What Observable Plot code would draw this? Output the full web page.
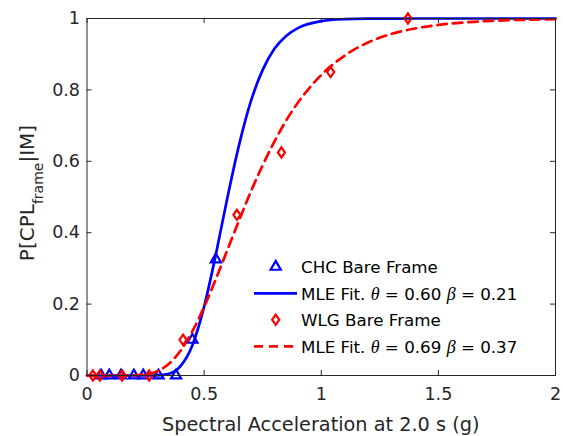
<!DOCTYPE html>
<html><head><meta charset="utf-8">
<script src="https://cdn.jsdelivr.net/npm/d3@7"></script>
<script src="https://cdn.jsdelivr.net/npm/@observablehq/plot@0.6"></script>
<style>body{margin:0;background:#fff}#chart{width:563px;height:436px}</style>
</head><body><div id="chart"></div>
<script>
// CHC Bare Frame observations
const chcX = [0.06, 0.095, 0.145, 0.20, 0.24, 0.305, 0.38, 0.45, 0.55];
const chcY = [0, 0, 0, 0, 0, 0, 0, 0.10, 0.325];
// WLG Bare Frame observations
const wlgX = [0.025, 0.055, 0.15, 0.265, 0.41, 0.64, 0.83, 1.04, 1.37];
const wlgY = [0, 0, 0, 0, 0.10, 0.45, 0.625, 0.85, 1.0];
// MLE fit curves
const fitChcX = [0, 0.25, 0.30, 0.35, 0.40, 0.45, 0.50, 0.55, 0.60, 0.65, 0.70, 0.75, 0.80, 0.85, 0.90, 1.0, 1.1, 1.2, 1.4, 2.0];
const fitChcY = [0, 0, 0.0005, 0.005, 0.027, 0.085, 0.193, 0.339, 0.5, 0.648, 0.769, 0.856, 0.915, 0.951, 0.973, 0.9925, 0.998, 0.9995, 1, 1];
const fitWlgX = [0, 0.15, 0.20, 0.25, 0.30, 0.35, 0.40, 0.45, 0.50, 0.55, 0.60, 0.65, 0.70, 0.75, 0.80, 0.85, 0.90, 0.95, 1.0, 1.1, 1.2, 1.3, 1.4, 1.5, 1.6, 1.7, 1.8, 2.0];
const fitWlgY = [0, 0, 0.0004, 0.003, 0.012, 0.033, 0.070, 0.124, 0.192, 0.270, 0.353, 0.436, 0.516, 0.589, 0.655, 0.714, 0.764, 0.806, 0.842, 0.896, 0.933, 0.957, 0.972, 0.982, 0.9885, 0.9926, 0.9952, 0.998];
// ticks and labels
const xTicks = [0, 0.5, 1, 1.5, 2];
const yTicks = [0, 0.2, 0.4, 0.6, 0.8, 1];
const xLabel = "Spectral Acceleration at 2.0 s (g)";
const yLabelParts = ["P[CPL", "frame", "|IM]"];
const legendItems = [
  {kind: "tri", text: ["CHC Bare Frame"]},
  {kind: "solid", text: ["MLE Fit. ", "θ", " = 0.60 ", "β", " = 0.21"]},
  {kind: "dia", text: ["WLG Bare Frame"]},
  {kind: "dash", text: ["MLE Fit. ", "θ", " = 0.69 ", "β", " = 0.37"]}
];

const BLUE = "#0000ff", RED = "#ff0000", AX = "#262626";
const FONT = "'DejaVu Sans', sans-serif";

const chc = chcX.map((x, i) => ({x, y: chcY[i]}));
const wlg = wlgX.map((x, i) => ({x, y: wlgY[i]}));
const fitChc = fitChcX.map((x, i) => ({x, y: fitChcY[i]}));
const fitWlg = fitWlgX.map((x, i) => ({x, y: fitWlgY[i]}));

// MATLAB-like diamond symbol
const diamondM = {draw(ctx, size) {
  const h = Math.sqrt(size / 1.4), w = 0.7 * h;
  ctx.moveTo(0, -h); ctx.lineTo(w, 0); ctx.lineTo(0, h); ctx.lineTo(-w, 0); ctx.closePath();
}};

const tx = 5 / 468.5 * 2, ty = 5 / 357;
const R_TRI = 3.8, R_DIA = 3.4;

const plot = Plot.plot({
  width: 563, height: 436,
  marginLeft: 86.5, marginRight: 8, marginTop: 18, marginBottom: 61,
  x: {domain: [0, 2]},
  y: {domain: [0, 1]},
  style: {fontFamily: FONT, fontSize: "17.5px", color: AX, background: "#fff"},
  marks: [
    Plot.axisX(xTicks, {tickSize: 0, tickPadding: 12, label: null, tickFormat: d => String(d), fill: AX}),
    Plot.axisY(yTicks, {tickSize: 0, tickPadding: 7, label: null, tickFormat: d => String(d), fill: AX}),
    Plot.ruleX(xTicks, {x: d => d, y1: 0, y2: ty, stroke: AX, strokeWidth: 1}),
    Plot.ruleX(xTicks, {x: d => d, y1: 1, y2: 1 - ty, stroke: AX, strokeWidth: 1}),
    Plot.ruleY(yTicks, {y: d => d, x1: 0, x2: tx, stroke: AX, strokeWidth: 1}),
    Plot.ruleY(yTicks, {y: d => d, x1: 2, x2: 2 - tx, stroke: AX, strokeWidth: 1}),
    Plot.dot(chc, {x: "x", y: "y", symbol: "triangle", r: R_TRI, stroke: BLUE, strokeWidth: 2.2, fill: "none"}),
    Plot.line(fitChc, {x: "x", y: "y", curve: "monotone-x", stroke: BLUE, strokeWidth: 2.7}),
    Plot.dot(wlg, {x: "x", y: "y", symbol: diamondM, r: R_DIA, stroke: RED, strokeWidth: 2.2, fill: "none"}),
    Plot.line(fitWlg, {x: "x", y: "y", curve: "monotone-x", stroke: RED, strokeWidth: 2.7, strokeDasharray: "9.5,6"}),
    Plot.frame({stroke: AX, strokeWidth: 1})
  ]
});
document.getElementById("chart").appendChild(plot);

const svg = d3.select(plot);
// x label
svg.append("text").attr("x", 320.75).attr("y", 431).attr("text-anchor", "middle")
  .attr("font-family", FONT).attr("font-size", 19.3).attr("fill", AX).text(xLabel);
// y label with subscript
const yl = svg.append("text").attr("transform", "translate(33.5,193) rotate(-90)")
  .attr("text-anchor", "middle").attr("font-family", FONT).attr("font-size", 20).attr("fill", AX);
yl.append("tspan").text(yLabelParts[0]);
yl.append("tspan").attr("font-size", 14).attr("dy", 9).text(yLabelParts[1]);
yl.append("tspan").attr("dy", -9).text(yLabelParts[2]);

// legend
const lg = svg.append("g").attr("font-family", FONT).attr("font-size", 16.7).attr("fill", "#000").attr("text-anchor", "start");
const rowY = [273.3, 299.8, 326.3, 352.8];
const symX = 275.7, textX = 301;
const tri = d3.symbol(d3.symbolTriangle, Math.PI * R_TRI * R_TRI)();
const dia = d3.symbol(diamondM, Math.PI * R_DIA * R_DIA)();
legendItems.forEach((it, i) => {
  const yb = rowY[i], yc = yb - 6.5;
  if (it.kind === "tri") lg.append("path").attr("d", tri).attr("transform", `translate(${symX},${yc})`).attr("fill", "none").attr("stroke", BLUE).attr("stroke-width", 2.2);
  if (it.kind === "dia") lg.append("path").attr("d", dia).attr("transform", `translate(${symX},${yc})`).attr("fill", "none").attr("stroke", RED).attr("stroke-width", 2.2);
  if (it.kind === "solid") lg.append("line").attr("x1", 254).attr("x2", 297).attr("y1", yc).attr("y2", yc).attr("stroke", BLUE).attr("stroke-width", 2.7);
  if (it.kind === "dash") lg.append("line").attr("x1", 254).attr("x2", 297).attr("y1", yc).attr("y2", yc).attr("stroke", RED).attr("stroke-width", 2.7).attr("stroke-dasharray", "9,6");
  const t = lg.append("text").attr("x", textX).attr("y", yb).attr("text-anchor", "start");
  it.text.forEach(s => {
    const sp = t.append("tspan").text(s);
    if (s === "θ" || s === "β") sp.attr("font-family", "'Liberation Serif', serif").attr("font-style", "italic").attr("font-size", 18);
  });
});
</script>
</body></html>
